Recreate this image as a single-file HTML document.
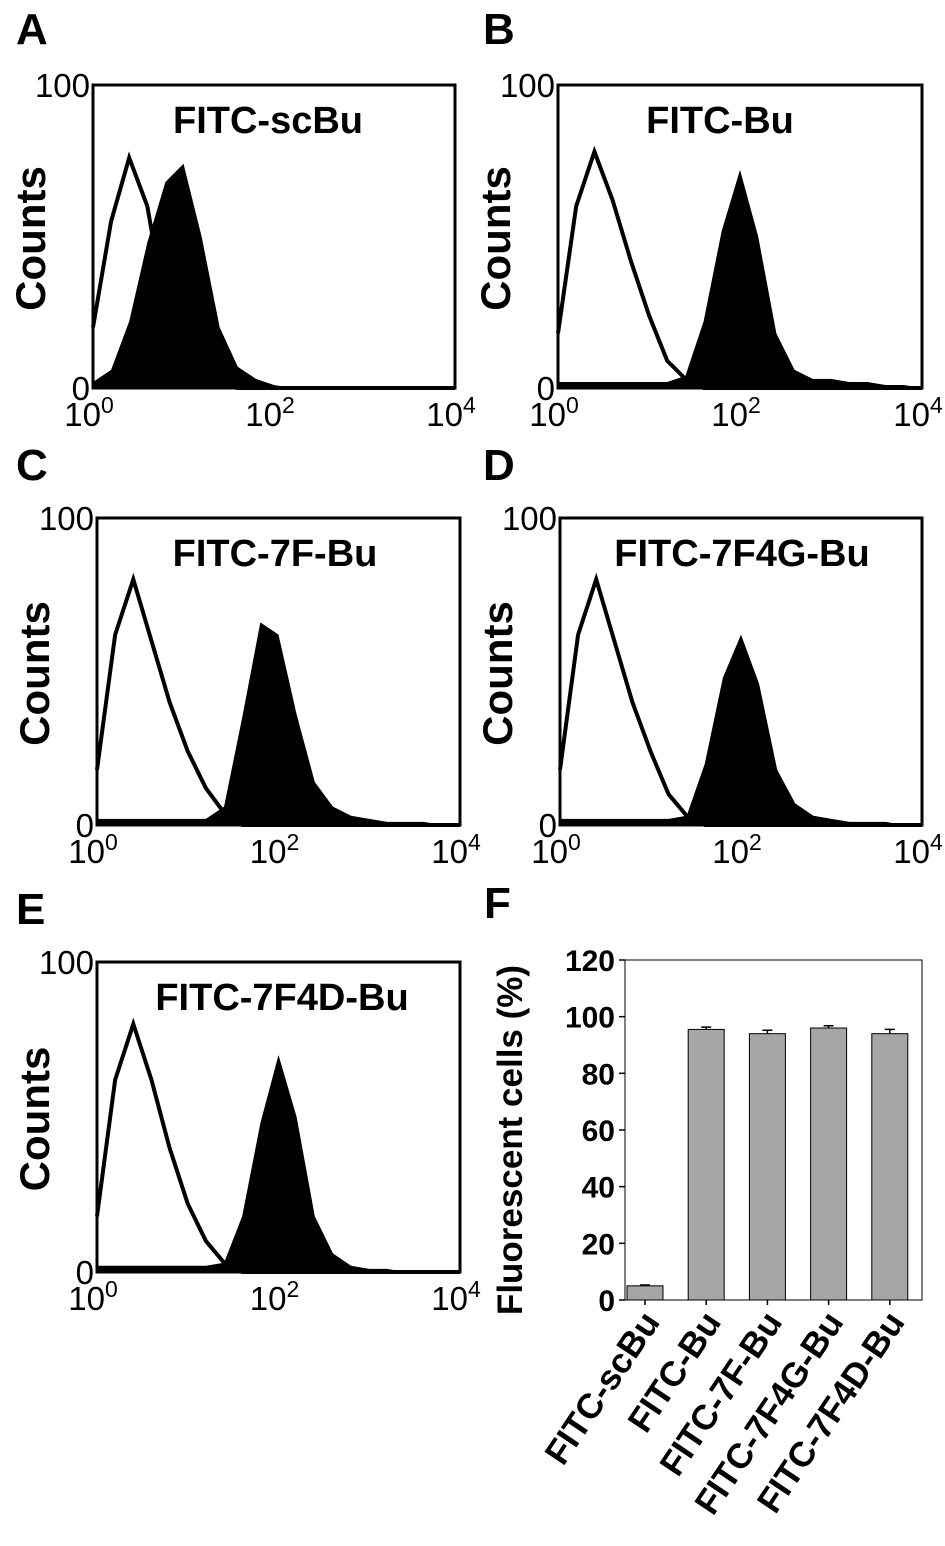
<!DOCTYPE html>
<html><head><meta charset="utf-8"><style>
body{margin:0;background:#fff}
svg text{font-family:"Liberation Sans",Arial,sans-serif}
</style></head><body>
<svg id="fig" width="945" height="1541" viewBox="0 0 945 1541" xmlns="http://www.w3.org/2000/svg">
</svg>
<script>
// histogram data: log10 positions 0..4 step 0.2, counts (% of max scale 100)
const logBins=[0,0.2,0.4,0.6,0.8,1.0,1.2,1.4,1.6,1.8,2.0,2.2,2.4,2.6,2.8,3.0,3.2,3.4,3.6,3.8,4.0];
const ctrlA=[20,55,76,60,26,10,3,1,0,0,0,0,0,0,0,0,0,0,0,0,0];
const fillA=[2,6,22,48,68,74,50,20,7,3,1,0,0,0,0,0,0,0,0,0,0];
const ctrlB=[18,60,78,62,42,24,9,3,0,0,0,0,0,0,0,0,0,0,0,0,0];
const fillB=[2,2,2,2,2,2,2,4,22,52,72,50,18,6,3,3,2,2,1,1,0];
const ctrlC=[18,62,80,60,40,24,12,4,0,0,0,0,0,0,0,0,0,0,0,0,0];
const fillC=[2,2,2,2,2,2,2,6,35,66,62,36,14,6,3,2,1,1,1,0,0];
const ctrlD=[18,62,80,60,40,24,10,3,0,0,0,0,0,0,0,0,0,0,0,0,0];
const fillD=[2,2,2,2,2,2,2,3,20,48,62,46,18,7,3,2,1,1,1,0,0];
const ctrlE=[18,62,80,62,40,22,10,3,0,0,0,0,0,0,0,0,0,0,0,0,0];
const fillE=[2,2,2,2,2,2,2,3,18,48,70,50,18,6,2,1,1,0,0,0,0];
// bar chart data
const barCats=["FITC-scBu","FITC-Bu","FITC-7F-Bu","FITC-7F4G-Bu","FITC-7F4D-Bu"];
const barVals=[5,95.5,94,96,94];
const barErr=[0.3,0.8,1.2,0.8,1.5];
const barTicks=[0,20,40,60,80,100,120];

const NS="http://www.w3.org/2000/svg";
const svg=document.getElementById('fig');
function mk(tag,attrs,parent){const e=document.createElementNS(NS,tag);for(const k in attrs)e.setAttribute(k,attrs[k]);(parent||svg).appendChild(e);return e;}

const panels=[
 {L:'A',x0:93,x1:455,y0:85,y1:388,title:'FITC-scBu',tx:268,ctrl:ctrlA,fill:fillA,lx:16,ly:44},
 {L:'B',x0:558,x1:922,y0:85,y1:388,title:'FITC-Bu',tx:720,ctrl:ctrlB,fill:fillB,lx:483,ly:44},
 {L:'C',x0:97,x1:460,y0:518,y1:825,title:'FITC-7F-Bu',tx:275,ctrl:ctrlC,fill:fillC,lx:16,ly:480},
 {L:'D',x0:560,x1:922,y0:518,y1:825,title:'FITC-7F4G-Bu',tx:742,ctrl:ctrlD,fill:fillD,lx:483,ly:480},
 {L:'E',x0:97,x1:460,y0:962,y1:1272,title:'FITC-7F4D-Bu',tx:282,ctrl:ctrlE,fill:fillE,lx:16,ly:924}
];
panels.forEach(p=>{
  const g=mk('g',{});
  
  
  const xs=v=>p.x0+(p.x1-p.x0)*v/4;
  const ys=v=>p.y1-(p.y1-p.y0)*v/100;
  let pts=[[xs(0),ys(0)]];
  logBins.forEach((b,i)=>{pts.push([xs(b),ys(p.fill[i])]);});
  pts.push([xs(4),ys(0)]);
  const f=mk('polygon',{points:pts.map(a=>a.join(',')).join(' '),fill:'#000'},g);
  
  
  const cp=logBins.map((b,i)=>[xs(b),ys(p.ctrl[i])]);
  const c=mk('polyline',{points:cp.map(a=>a.join(',')).join(' '),fill:'none',stroke:'#000','stroke-width':4},g);
  
  
  const r=mk('rect',{x:p.x0,y:p.y0,width:p.x1-p.x0,height:p.y1-p.y0,fill:'none',stroke:'#000','stroke-width':3},g);
  
  
  const t=mk('text',{x:p.tx,y:p.y0+48,'font-size':38,'font-weight':'bold','text-anchor':'middle'},g);t.textContent=p.title;
  
  
  const l=mk('text',{x:p.lx,y:p.ly,'font-size':44,'font-weight':'bold'},g);l.textContent=p.L;
  
  
  const cx=p.x0-48, cy=(p.y0+p.y1)/2+2;
  const yl=mk('text',{x:cx,y:cy,'font-size':42,'font-weight':'bold','text-anchor':'middle',transform:`rotate(-90 ${cx} ${cy})`},g);yl.textContent='Counts';
  
  
  [[100,'100'],[0,'0']].forEach(([v,s])=>{
    const tt=mk('text',{x:p.x0-3,y:ys(v)+12,'font-size':33,'text-anchor':'end'},g);tt.textContent=s;
    
    
  });
  [0,2,4].forEach(e=>{
    const tt=mk('text',{x:xs(e)-4,y:p.y1+38,'font-size':33,'text-anchor':'middle'},g);
    tt.innerHTML='10<tspan dy="-13" font-size="23">'+e+'</tspan>';
    
    
  });
});
// Panel F
const F={x0:625,x1:922,y0:960,y1:1300};
const gF=mk('g',{});


const fy=v=>F.y1-(F.y1-F.y0)*v/120;
const bx=i=>F.x0+20+61.2*i;
barCats.forEach((c,i)=>{
  const cx=bx(i);
  const b=mk('rect',{x:cx-18,y:fy(barVals[i]),width:36,height:F.y1-fy(barVals[i]),fill:'#a6a6a6',stroke:'#000','stroke-width':1},gF);
  
  
  const e=mk('path',{d:`M${cx} ${fy(barVals[i])} V${fy(barVals[i]+barErr[i])} M${cx-5} ${fy(barVals[i]+barErr[i])} H${cx+5}`,stroke:'#000','stroke-width':1.5,fill:'none'},gF);
  
  
  const xt=mk('line',{x1:cx,x2:cx,y1:F.y1,y2:F.y1+5,stroke:'#000','stroke-width':1.5},gF);
  
  
  const t=mk('text',{x:cx+16,y:F.y1+22,'font-size':35,'font-weight':'bold','text-anchor':'end',transform:`rotate(-56 ${cx+16} ${F.y1+22})`},gF);t.textContent=c;
  
  
});
const fr=mk('rect',{x:F.x0,y:F.y0,width:F.x1-F.x0,height:F.y1-F.y0,fill:'none',stroke:'#000','stroke-width':1},gF);


barTicks.forEach(v=>{
  const tk=mk('line',{x1:F.x0-6,x2:F.x0,y1:fy(v),y2:fy(v),stroke:'#000','stroke-width':1.5},gF);
  
  
  const t=mk('text',{x:F.x0-10,y:fy(v)+11,'font-size':30,'font-weight':'bold','text-anchor':'end'},gF);t.textContent=v;
  
  
});
const fl=mk('text',{x:484,y:918,'font-size':44,'font-weight':'bold'},gF);fl.textContent='F';


const fyl=mk('text',{x:522,y:1140,'font-size':35,'font-weight':'bold','text-anchor':'middle',transform:'rotate(-90 522 1140)'},gF);fyl.textContent='Fluorescent cells (%)';


</script>
</body></html>
